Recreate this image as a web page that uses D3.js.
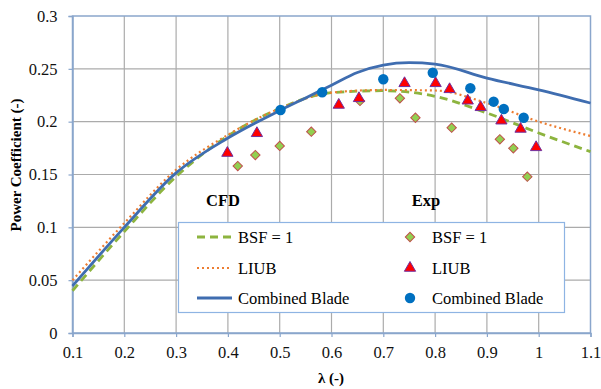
<!DOCTYPE html>
<html><head><meta charset="utf-8">
<script src="https://cdn.jsdelivr.net/npm/d3@7"></script>
<style>body{margin:0;background:#fff}svg{display:block}svg text{font-family:Times,"Times New Roman","Liberation Serif","DejaVu Serif","Noto Serif",serif !important}</style>
</head><body><svg id="c" width="601" height="389"></svg>
<script>
// CFD curves (lambda, Cp)
const cfdLambda = [0.1,0.2,0.3,0.4,0.5,0.6,0.7,0.8,0.9,1.0,1.1];
const cfdBSF   = [0.040,0.096,0.148,0.1865,0.2125,0.2275,0.2293,0.2240,0.2082,0.1893,0.1716];
const cfdLIUB  = [0.050,0.104,0.1545,0.1875,0.2125,0.2275,0.2300,0.2295,0.2176,0.2000,0.1864];
const cbLambda = [0.1,0.2,0.3,0.4,0.5,0.55,0.6,0.65,0.7,0.75,0.8,0.9,1.0,1.1];
const cfdComb  = [0.0445,0.100,0.1515,0.1845,0.2105,0.2225,0.2345,0.2465,0.2535,0.2558,0.2545,0.2413,0.2300,0.2176];
// Experimental points
const expBSFx = [0.419,0.453,0.500,0.561,0.655,0.732,0.762,0.832,0.925,0.951,0.978];
const expBSFy = [0.158,0.1684,0.177,0.1905,0.2196,0.2221,0.2037,0.1943,0.1833,0.1748,0.1479];
const expLIUBx = [0.399,0.456,0.614,0.653,0.741,0.801,0.828,0.863,0.888,0.928,0.965,0.995];
const expLIUBy = [0.1703,0.189,0.2158,0.2221,0.2363,0.2363,0.2306,0.2198,0.2136,0.2009,0.1931,0.1757];
const expCombx = [0.5016,0.582,0.700,0.7955,0.868,0.913,0.9326,0.971];
const expComby = [0.211,0.2278,0.2401,0.2463,0.2316,0.2189,0.212,0.2037];
const xTicks = [0.1,0.2,0.3,0.4,0.5,0.6,0.7,0.8,0.9,1,1.1];
const xTickLabels = ["0.1","0.2","0.3","0.4","0.5","0.6","0.7","0.8","0.9","1","1.1"];
const yTicks = [0,0.05,0.1,0.15,0.2,0.25,0.3];
const yTickLabels = ["0","0.05","0.1","0.15","0.2","0.25","0.3"];

const svg = d3.select("#c");
const x = d3.scaleLinear().domain([0.1,1.1]).range([72.5,590.5]);
const y = d3.scaleLinear().domain([0,0.3]).range([333,16]);
const frameCol = "#8aa6cc", gridCol = "#ababab";

// grid
svg.append("g").selectAll("line").data(xTicks.slice(1,-1)).join("line")
  .attr("x1",d=>x(d)).attr("x2",d=>x(d)).attr("y1",y(0)).attr("y2",y(0.3))
  .attr("stroke",gridCol).attr("stroke-width",1.2);
svg.append("g").selectAll("line").data(yTicks.slice(1,-1)).join("line")
  .attr("x1",x(0.1)).attr("x2",x(1.1)).attr("y1",d=>y(d)).attr("y2",d=>y(d))
  .attr("stroke",gridCol).attr("stroke-width",1.2);
// frame
svg.append("rect").attr("x",x(0.1)).attr("y",y(0.3)).attr("width",x(1.1)-x(0.1)).attr("height",y(0)-y(0.3))
  .attr("fill","none").attr("stroke",frameCol).attr("stroke-width",1.5);

// axes
const xAxis = d3.axisBottom(x).tickValues(xTicks).tickFormat((d,i)=>xTickLabels[i]).tickSize(4).tickPadding(6);
const gx = svg.append("g").attr("transform",`translate(0,${y(0)})`).call(xAxis);
const yAxis = d3.axisLeft(y).tickValues(yTicks).tickFormat((d,i)=>yTickLabels[i]).tickSize(4).tickPadding(11);
const gy = svg.append("g").attr("transform",`translate(${x(0.1)},0)`).call(yAxis);
[gx,gy].forEach(g=>{
  g.attr("font-size",16.5);
  g.select(".domain").attr("stroke",frameCol).attr("stroke-width",1.5);
  g.selectAll(".tick line").attr("stroke",frameCol).attr("stroke-width",1.2);
  g.selectAll(".tick text").attr("fill","#111");
});
gx.selectAll(".tick text").attr("dy","0.9em");

// curves
const line = d3.line().x(d=>x(d[0])).y(d=>y(d[1])).curve(d3.curveMonotoneX);
const blue = "#3f6db0", orange = "#ed7d31", green = "#8db43f";
svg.append("path").datum(cfdLambda.map((l,i)=>[l,cfdBSF[i]])).attr("d",line)
  .attr("fill","none").attr("stroke",green).attr("stroke-width",2.8).attr("stroke-dasharray","8,5");
svg.append("path").datum(cfdLambda.map((l,i)=>[l,cfdLIUB[i]])).attr("d",line)
  .attr("fill","none").attr("stroke",orange).attr("stroke-width",2.2).attr("stroke-dasharray","2,3");
svg.append("path").datum(cbLambda.map((l,i)=>[l,cfdComb[i]])).attr("d",line)
  .attr("fill","none").attr("stroke",blue).attr("stroke-width",2.8);

// markers
const diamond = d3.symbol().type(d3.symbolSquare).size(44)();
const tri = d3.symbol().type(d3.symbolTriangle).size(55)();
svg.append("g").selectAll("path").data(expBSFx.map((l,i)=>[l,expBSFy[i]])).join("path")
  .attr("d",diamond).attr("transform",d=>`translate(${x(d[0])},${y(d[1])}) rotate(45)`)
  .attr("fill","#92d050").attr("stroke","#c0504d").attr("stroke-width",1);
svg.append("g").selectAll("path").data(expLIUBx.map((l,i)=>[l,expLIUBy[i]])).join("path")
  .attr("d",tri).attr("transform",d=>`translate(${x(d[0])},${y(d[1])})`)
  .attr("fill","#ff0000").attr("stroke","#7030a0").attr("stroke-width",1);
svg.append("g").selectAll("circle").data(expCombx.map((l,i)=>[l,expComby[i]])).join("circle")
  .attr("cx",d=>x(d[0])).attr("cy",d=>y(d[1])).attr("r",5.2).attr("fill","#0070c0");

// labels
svg.append("text").attr("x",223).attr("y",206).attr("text-anchor","middle").attr("font-weight","bold").attr("font-size",16.5).text("CFD");
svg.append("text").attr("x",426).attr("y",206).attr("text-anchor","middle").attr("font-weight","bold").attr("font-size",16.5).text("Exp");

// legend
const lg = svg.append("g");
lg.append("rect").attr("x",178.5).attr("y",222.5).attr("width",386).attr("height",90)
  .attr("fill","#fff").attr("stroke","#8eb4e3").attr("stroke-width",1.2);
const legL = [["BSF = 1",green,"8,5",2.8],["LIUB",orange,"2,3",2.2],["Combined Blade",blue,null,2.8]];
const rowsY = [237,268,298];
legL.forEach((d,i)=>{
  const l = lg.append("line").attr("x1",197).attr("x2",232).attr("y1",rowsY[i]).attr("y2",rowsY[i])
    .attr("stroke",d[1]).attr("stroke-width",d[3]);
  if(d[2]) l.attr("stroke-dasharray",d[2]);
  lg.append("text").attr("x",238).attr("y",rowsY[i]).attr("dy","0.35em").attr("font-size",16.5).text(d[0]);
});
const legR = ["BSF = 1","LIUB","Combined Blade"];
lg.append("path").attr("d",diamond).attr("transform",`translate(410,${rowsY[0]}) rotate(45)`)
  .attr("fill","#92d050").attr("stroke","#c0504d");
lg.append("path").attr("d",tri).attr("transform",`translate(410,${rowsY[1]})`)
  .attr("fill","#ff0000").attr("stroke","#7030a0");
lg.append("circle").attr("cx",410).attr("cy",rowsY[2]).attr("r",5.2).attr("fill","#0070c0");
legR.forEach((t,i)=>lg.append("text").attr("x",432).attr("y",rowsY[i]).attr("dy","0.35em").attr("font-size",16.5).text(t));

// axis titles
svg.append("text").attr("x",331).attr("y",383).attr("text-anchor","middle").attr("font-weight","bold").attr("font-size",15).text("λ (-)");
svg.append("text").attr("transform","translate(21,165) rotate(-90)").attr("text-anchor","middle").attr("font-weight","bold").attr("font-size",15).text("Power Coefficient (-)");
</script></body></html>
